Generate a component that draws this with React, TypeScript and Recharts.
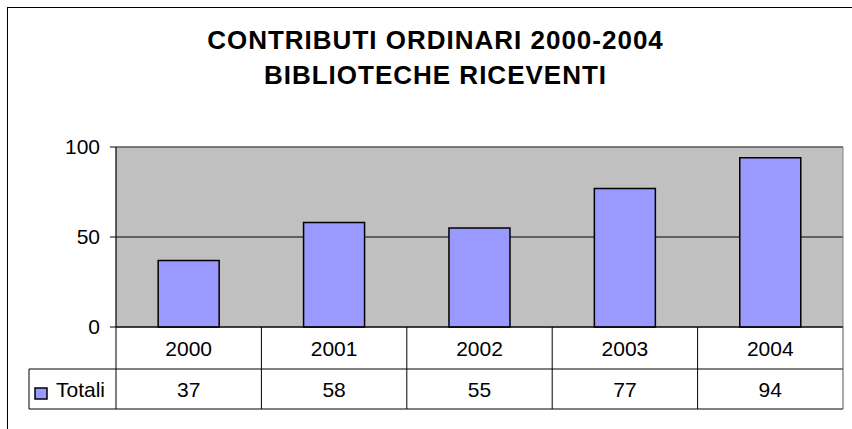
import { BarChart, Bar, XAxis, YAxis, CartesianGrid, ReferenceArea } from 'recharts'

// dati
const years = ['2000', '2001', '2002', '2003', '2004']
const totali = [37, 58, 55, 77, 94]
const yTicks = [0, 50, 100]
const seriesName = 'Totali'
const titleLines = ['CONTRIBUTI ORDINARI 2000-2004', 'BIBLIOTECHE RICEVENTI']

const data = years.map((year, i) => ({ year, totali: totali[i] }))

const W = 852
const H = 429
const FONT = '"Liberation Sans", Arial, sans-serif'
const FS = 21
const PLOT_LEFT = 116
const PLOT_RIGHT = 843
const PLOT_TOP = 147
const PLOT_BOTTOM = 327
const ROW1_BOTTOM = 369
const ROW2_BOTTOM = 409
const TABLE_LEFT = 29
const Y_AXIS_W = 60
const BAND = (PLOT_RIGHT - PLOT_LEFT) / years.length
const BAR_FILL = '#9999ff'

function TableTick(props: any) {
  const { x, payload, index } = props
  const left = x - BAND / 2
  const right = x + BAND / 2
  const last = index === years.length - 1
  return (
    <g>
      {index === 0 ? (
        <g>
          <line x1={TABLE_LEFT} y1={ROW1_BOTTOM} x2={PLOT_RIGHT} y2={ROW1_BOTTOM} stroke="#000" />
          <line x1={TABLE_LEFT} y1={ROW2_BOTTOM} x2={PLOT_RIGHT} y2={ROW2_BOTTOM} stroke="#000" />
          <line x1={TABLE_LEFT} y1={ROW1_BOTTOM} x2={TABLE_LEFT} y2={ROW2_BOTTOM} stroke="#000" />
          <rect x={35} y={388} width={12} height={11} fill={BAR_FILL} stroke="#000" strokeWidth={1.5} />
          <text x={56} y={(ROW1_BOTTOM + ROW2_BOTTOM) / 2} dy="0.36em" fontSize={FS} fontFamily={FONT} fill="#000">
            {seriesName}
          </text>
        </g>
      ) : null}
      <line x1={left} y1={PLOT_BOTTOM} x2={left} y2={ROW2_BOTTOM} stroke="#000" />
      {last ? <line x1={right} y1={PLOT_BOTTOM} x2={right} y2={ROW2_BOTTOM} stroke="#555" /> : null}
      <text x={x} y={(PLOT_BOTTOM + ROW1_BOTTOM) / 2} dy="0.36em" textAnchor="middle" fontSize={FS} fontFamily={FONT} fill="#000">
        {payload.value}
      </text>
      <text x={x} y={(ROW1_BOTTOM + ROW2_BOTTOM) / 2} dy="0.36em" textAnchor="middle" fontSize={FS} fontFamily={FONT} fill="#000">
        {totali[index]}
      </text>
    </g>
  )
}

export default function App() {
  return (
    <div style={{ position: 'fixed', left: 0, top: 0, width: W, height: H, overflow: 'hidden', background: '#fff' }}>
      <div style={{ position: 'absolute', left: 7, top: 7, width: 1000, height: 600, border: '1.5px solid #000' }} />
      <div
        style={{
          position: 'absolute', left: 0, top: 23, width: 871, textAlign: 'center',
          fontFamily: FONT, fontWeight: 'bold', fontSize: 26, lineHeight: '35px', letterSpacing: 1, color: '#000',
        }}
      >
        {titleLines.map(l => <div key={l}>{l}</div>)}
      </div>
      <div style={{ position: 'absolute', left: 0, top: 0 }}>
        <BarChart
          width={W}
          height={H}
          data={data}
          margin={{ top: PLOT_TOP, right: W - PLOT_RIGHT, bottom: H - ROW2_BOTTOM, left: PLOT_LEFT - Y_AXIS_W }}
          barCategoryGap="29%"
        >
          <CartesianGrid vertical={false} fill="#c0c0c0" fillOpacity={1} stroke="#000" />
          <ReferenceArea y1={0} y2={100} fill="none" stroke="#808080" ifOverflow="visible" />
          <XAxis
            dataKey="year"
            height={ROW2_BOTTOM - PLOT_BOTTOM}
            axisLine={{ stroke: '#000' }}
            tickLine={false}
            interval={0}
            tick={<TableTick />}
          />
          <YAxis
            width={Y_AXIS_W}
            domain={[0, 100]}
            ticks={yTicks}
            axisLine={{ stroke: '#000' }}
            tickLine={{ stroke: '#000' }}
            tickSize={6}
            tickMargin={10}
            tick={{ fill: '#000', fontSize: FS, fontFamily: FONT }}
          />
          <Bar dataKey="totali" name={seriesName} fill={BAR_FILL} stroke="#000" strokeWidth={1.5} isAnimationActive={false} />
        </BarChart>
      </div>
    </div>
  )
}
